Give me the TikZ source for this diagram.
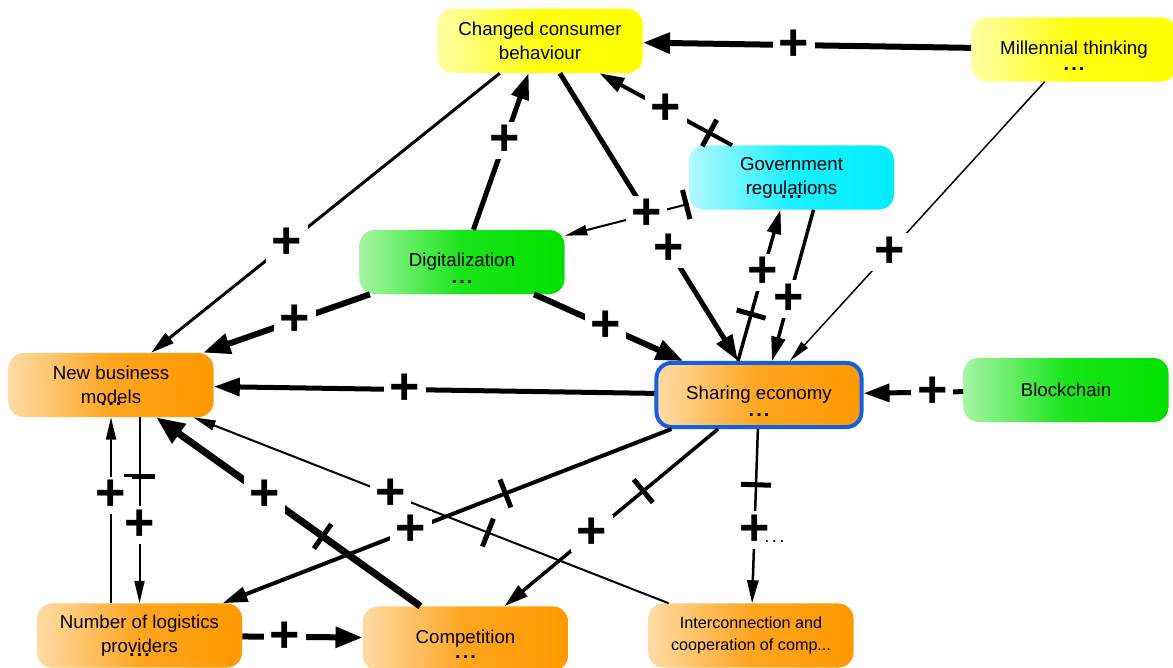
\documentclass[tikz,border=0pt]{standalone}
\usepackage{fontspec}
\setmainfont{Liberation Sans}
\usetikzlibrary{arrows.meta,calc}

\definecolor{yel}{RGB}{255,255,0}
\definecolor{org}{RGB}{255,153,0}
\definecolor{cyn}{RGB}{0,238,255}
\definecolor{grn}{RGB}{0,225,0}
\definecolor{rimblue}{RGB}{20,95,225}
\newcommand{\moredots}{.\kern1.6pt.\kern1.6pt.}

\begin{document}
\begin{tikzpicture}[x=0.025cm,y=-0.025cm,
  box/.style={rectangle,rounded corners=3.75mm,minimum width=51.25mm,minimum height=16mm,align=center,inner sep=1mm,font=\fontsize{13.3}{17}\selectfont},
  yelbox/.style={box,left color=yel!35!white,right color=yel,middle color=yel!95!white},
  orgbox/.style={box,left color=org!35!white,right color=org,middle color=org!88!white},
  cynbox/.style={box,left color=cyn!30!white,right color=cyn,middle color=cyn!90!white},
  grnbox/.style={box,left color=grn!35!white,right color=grn,middle color=grn!90!white},
  lnk/.style={line width=#1,-{Triangle[length=5mm 1.2,width=1.25mm 2.5]}},
  lnk/.default=0.5mm,
  pls/.style={fill=white,inner xsep=4pt,inner ysep=2.5pt,font=\fontsize{37}{37}\selectfont\bfseries},
  tck/.style={fill=black,inner sep=0pt,minimum width=1.25mm,minimum height=7.5mm,sloped},
  dts/.style={inner sep=0pt,font=\fontsize{14}{14}\selectfont\bfseries}]
\useasboundingbox (0,0) rectangle (1173,668);

\node[yelbox] (chg) at (540,41) {Changed consumer\\behaviour};
\node[yelbox] (mil) at (1074,49.5) {Millennial thinking};
\node[cynbox] (gov) at (791.5,177.5) {Government\\regulations};
\node[grnbox] (dig) at (462,262) {Digitalization};
\node[orgbox] (nbm) at (111,385) {New business\\models};
\node[orgbox,draw=rimblue,line width=1mm] (sh) at (759,395) {Sharing economy};
\node[grnbox] (bc) at (1066,390) {Blockchain};
\node[orgbox] (nlp) at (139.5,635.5) {Number of logistics\\providers};
\node[orgbox] (cmp) at (465.5,638.5) {Competition};
\node[orgbox,font=\fontsize{11.5}{15.5}\selectfont] (int) at (751,635.5) {Interconnection and\\cooperation of comp...};

\node[dts] at ($(mil)+(0,20)$) {\moredots};
\node[dts] at ($(gov)+(0,20)$) {\moredots};
\node[dts] at ($(dig)+(0,20)$) {\moredots};
\node[dts] at ($(nbm)+(0,19)$) {\moredots};
\node[dts] at ($(sh)+(0,20)$) {\moredots};
\node[dts] at ($(nlp)+(0,20)$) {\moredots};
\node[dts] at ($(cmp)+(0,19)$) {\moredots};

\draw[lnk=1.5mm] (mil) -- node[pls,pos=.54]{+} (chg);
\draw[lnk=.375mm] (mil) -- node[pls,pos=.61]{+} (sh);
\draw[lnk=.75mm] (chg) -- node[pls,pos=.61]{+} (nbm);
\draw[lnk=1.25mm] (dig) -- node[pls,pos=.57]{+} (chg);
\draw[lnk=1.25mm] (chg) -- node[pls,pos=.61]{+} (sh);
\draw[lnk=1mm] (gov) -- node[tck,pos=.17]{} node[pls,pos=.5]{+} (chg);
\draw[lnk=.5mm] (gov) -- node[tck,pos=.02]{} node[pls,pos=.34]{+} (dig);
\draw[lnk=.875mm] ($(sh.north)+(-21,0)$) -- node[tck,pos=.31]{} node[pls,pos=.585]{+} ($(gov.south)+(-11,0)$);
\draw[lnk=.875mm] ($(gov.south)+(22,0)$) -- node[pls,pos=.59]{+} ($(sh.north)+(13,0)$);
\draw[lnk=1.5mm] (dig) -- node[pls,pos=.45]{+} (nbm);
\draw[lnk=1.5mm] (dig) -- node[pls,pos=.48]{+} (sh);
\draw[lnk=1.25mm] (sh) -- node[pls,pos=.566]{+} (nbm);
\draw[lnk=1.25mm] (bc) -- node[pls,pos=.31]{+} (sh);
\draw[lnk=.5mm] (nbm.south -| nlp.north) -- node[tck,pos=.32]{} node[pls,pos=.58]{+} (nlp.north);
\draw[lnk=.5mm] (nlp.north -| nbm.south) -- node[pls,pos=.58]{+} (nbm.south);
\draw[lnk=1.5mm] (nlp) -- node[pls,pos=.355]{+} (cmp);
\draw[lnk=1.75mm] (cmp) -- node[tck,pos=.37]{} node[pls,pos=.59]{+} (nbm);
\draw[lnk=.5mm] (int) -- node[tck,pos=.38]{} node[pls,pos=.585]{+} (nbm);
\draw[lnk=1mm] (sh) -- node[tck,pos=.37]{} node[pls,pos=.58]{+} (nlp);
\draw[lnk=.875mm] (sh) -- node[tck,pos=.35]{} node[pls,pos=.59]{+} (cmp);
\draw[lnk=.625mm] (sh) -- node[tck,pos=.32]{} node[pls,pos=.58] (p21) {+} (int);
\node[dts,font=\fontsize{13.3}{13}\selectfont] at ($(p21)+(20,11)$) {\moredots};
\end{tikzpicture}
\end{document}
